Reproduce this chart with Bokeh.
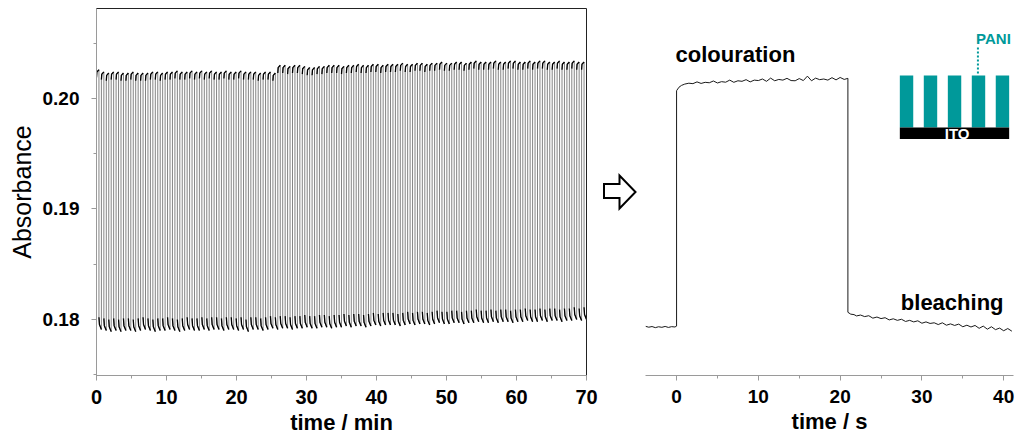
import numpy as np
from bokeh.plotting import figure
from bokeh.layouts import row
from bokeh.models import Range1d, SingleIntervalTicker, NumeralTickFormatter
from bokeh.core.properties import value
from bokeh.embed import file_html
from bokeh.resources import INLINE

# ---------------- data ----------------
# left panel: 100 switching cycles over 70 min (period 0.7 min)
cycle_period_min = 0.7
cycle_top = [0.2026, 0.2024, 0.2023, 0.2024, 0.2024, 0.2023, 0.2023, 0.2024, 0.2023, 0.2023,
             0.2023, 0.2024, 0.2024, 0.2023, 0.2024, 0.2024, 0.2025, 0.2024, 0.2024, 0.2025,
             0.2024, 0.2025, 0.2024, 0.2025, 0.2024, 0.2024, 0.2025, 0.2024, 0.2024, 0.2025,
             0.2024, 0.2024, 0.2024, 0.2023, 0.2024, 0.2024, 0.2023,
             0.2030, 0.2030, 0.2029, 0.2030, 0.2030, 0.2029, 0.2028, 0.2028,
             0.2029, 0.2029, 0.2030, 0.2030, 0.2030, 0.2029, 0.2030, 0.2030, 0.2031, 0.2030,
             0.2030, 0.2031, 0.2031, 0.2030, 0.2031, 0.2031,
             0.2031, 0.2032, 0.2031, 0.2031, 0.2032, 0.2032, 0.2031, 0.2032, 0.2032, 0.2033,
             0.2032, 0.2032, 0.2033, 0.2033, 0.2032, 0.2033, 0.2034, 0.2033,
             0.2033, 0.2033, 0.2034, 0.2033, 0.2033, 0.2034, 0.2034, 0.2033, 0.2033, 0.2034,
             0.2033, 0.2034, 0.2034, 0.2033, 0.2033, 0.2034, 0.2033, 0.2033, 0.2034, 0.2033, 0.2033]
cycle_bottom = [0.1791, 0.1790, 0.1789, 0.1790, 0.1789, 0.1790, 0.1790, 0.1789, 0.1790, 0.1791,
                0.1790, 0.1789, 0.1790, 0.1790, 0.1791, 0.1790, 0.1789, 0.1790, 0.1791, 0.1790,
                0.1790, 0.1791, 0.1790, 0.1791, 0.1791, 0.1790, 0.1791, 0.1791, 0.1790, 0.1791,
                0.1789, 0.1791, 0.1791, 0.1790, 0.1791, 0.1792, 0.1791, 0.1792, 0.1792, 0.1791,
                0.1792, 0.1792, 0.1793, 0.1792, 0.1792, 0.1793, 0.1793, 0.1792, 0.1793, 0.1793,
                0.1794, 0.1793, 0.1794, 0.1794, 0.1793, 0.1794, 0.1795, 0.1794, 0.1795, 0.1795,
                0.1795, 0.1794, 0.1795, 0.1796, 0.1795, 0.1796, 0.1796, 0.1795, 0.1796, 0.1797,
                0.1796, 0.1796, 0.1797, 0.1797, 0.1796, 0.1797, 0.1797, 0.1798, 0.1797, 0.1797,
                0.1798, 0.1797, 0.1798, 0.1798, 0.1797, 0.1798, 0.1798, 0.1799, 0.1798, 0.1798,
                0.1799, 0.1798, 0.1799, 0.1799, 0.1798, 0.1799, 0.1799, 0.1800, 0.1799, 0.1800]
top_plateau_span = 0.0007      # absorbance climb within a coloured plateau
bottom_plateau_span = 0.0011   # absorbance decay within a bleached plateau

# right panel: one single cycle (time in s)
pre_t = [-3.8, -3.4, -3.0, -2.6, -2.2, -1.8, -1.4, -1.0, -0.6, -0.2, 0.0]
pre_a = [0.17938, 0.17930, 0.17936, 0.17926, 0.17934, 0.17929, 0.17937, 0.17928, 0.17935, 0.17932, 0.17940]

col_t = [0.0, 0.3, 0.6, 1.0, 1.5, 2.0, 2.5, 3.0, 3.5, 4.0, 4.5, 5.0, 5.5, 6.0, 6.5, 7.0, 7.5,
         8.0, 8.5, 9.0, 9.5, 10.0, 10.5, 11.0, 11.5, 12.0, 12.5, 13.0, 13.5, 14.0, 14.5, 15.0,
         15.5, 16.0, 16.5, 17.0, 17.5, 18.0, 18.5, 19.0, 19.5, 20.0, 20.5, 20.95]
col_a = [0.20070, 0.20102, 0.20118, 0.20130, 0.20138, 0.20134, 0.20150, 0.20136, 0.20146, 0.20142,
         0.20158, 0.20140, 0.20152, 0.20147, 0.20166, 0.20146, 0.20160, 0.20155, 0.20170, 0.20150,
         0.20166, 0.20162, 0.20176, 0.20155, 0.20184, 0.20160, 0.20172, 0.20166, 0.20182, 0.20162,
         0.20160, 0.20180, 0.20162, 0.20202, 0.20160, 0.20184, 0.20170, 0.20176, 0.20166, 0.20188,
         0.20168, 0.20190, 0.20172, 0.20182]

bl_t = [20.95, 21.3, 21.7, 22.0, 22.5, 23.0, 23.5, 24.0, 24.5, 25.0, 25.5, 26.0, 26.5, 27.0,
        27.5, 28.0, 28.5, 29.0, 29.5, 30.0, 30.5, 31.0, 31.5, 32.0, 32.5, 33.0, 33.5, 34.0,
        34.5, 35.0, 35.5, 36.0, 36.5, 37.0, 37.5, 38.0, 38.5, 39.0, 39.5, 40.0, 40.5, 41.0]
bl_a = [0.18065, 0.18048, 0.18044, 0.18032, 0.18040, 0.18026, 0.18034, 0.18012, 0.18022, 0.18008,
        0.18016, 0.17996, 0.18006, 0.17992, 0.18002, 0.17982, 0.17992, 0.17978, 0.17988, 0.17966,
        0.17978, 0.17964, 0.17970, 0.17954, 0.17970, 0.17948, 0.17960, 0.17946, 0.17958, 0.17934,
        0.17948, 0.17932, 0.17946, 0.17920, 0.17940, 0.17912, 0.17934, 0.17908, 0.17922, 0.17898,
        0.17918, 0.17894]

assert len(cycle_top) == len(cycle_bottom) == 100
assert len(col_t) == len(col_a) and len(bl_t) == len(bl_a) and len(pre_t) == len(pre_a)

TEAL = "#00999a"
FONT = "Liberation Sans"
Y0, Y1 = 0.17493, 0.20814

# ---------------- left panel geometry from cycle levels ----------------
xs_all, ys_all, seg_x, seg_y = [], [], [], []
h = cycle_period_min / 2
for i, (top, bot) in enumerate(zip(cycle_top, cycle_bottom)):
    t0 = i * cycle_period_min
    tx = [t0, t0 + 0.15 * h, t0 + h]
    ty = [top - top_plateau_span, top - 0.3 * top_plateau_span, top]
    bx = [t0 + h, t0 + 1.2 * h, t0 + 2 * h]
    by = [bot + bottom_plateau_span, bot + 0.4 * bottom_plateau_span, bot]
    xs_all += tx + bx
    ys_all += ty + by
    seg_x += [tx, bx]
    seg_y += [ty, by]


def style_axis(ax, label, bold_label=True, size="22px", tick_size="19px"):
    ax.axis_label = label
    ax.axis_label_text_font = FONT
    ax.axis_label_text_font_size = size
    ax.axis_label_text_font_style = "bold" if bold_label else "normal"
    ax.axis_label_text_color = "black"
    ax.major_label_text_font = FONT
    ax.major_label_text_font_size = tick_size
    ax.major_label_text_font_style = "bold"
    ax.major_label_text_color = "black"
    ax.axis_line_color = "#9a9a9a"
    ax.major_tick_line_color = "#9a9a9a"
    ax.minor_tick_line_color = "#9a9a9a"
    ax.major_tick_in = 0
    ax.major_tick_out = 5
    ax.minor_tick_in = 0
    ax.minor_tick_out = 3


# ---------------- left figure ----------------
left = figure(width=600, height=438, x_range=Range1d(0, 70), y_range=Range1d(Y0, Y1),
              output_backend="svg", toolbar_location=None,
              min_border_left=96, min_border_right=14, min_border_top=8, min_border_bottom=63)
left.xgrid.visible = False
left.ygrid.visible = False
left.outline_line_color = "#222222"
left.background_fill_color = "white"

left.line(xs_all, ys_all, line_color="#858585", line_width=1)
left.multi_line(seg_x, seg_y, line_color="black", line_width=1.3)

style_axis(left.xaxis[0], "time / min", tick_size="20px")
left.xaxis[0].ticker = SingleIntervalTicker(interval=10, num_minor_ticks=2)
left.xaxis[0].major_label_standoff = 9
left.xaxis[0].axis_label_standoff = 3

style_axis(left.yaxis[0], "Absorbance", bold_label=False, size="25px")
left.yaxis[0].ticker = SingleIntervalTicker(interval=0.01, num_minor_ticks=2)
left.yaxis[0].formatter = NumeralTickFormatter(format="0.00")
left.yaxis[0].major_label_standoff = 12
left.yaxis[0].axis_label_standoff = 4

# ---------------- arrow (page-pixel coordinates of the shared frame 8..375) ----------------
arrow = figure(width=45, height=438, x_range=Range1d(600, 645), y_range=Range1d(375, 8),
               output_backend="svg", toolbar_location=None,
               x_axis_location=None, y_axis_location=None,
               min_border_left=0, min_border_right=0, min_border_top=8, min_border_bottom=63)
arrow.outline_line_color = None
arrow.xgrid.visible = False
arrow.ygrid.visible = False
arrow.patch([603.5, 619, 619, 635, 619, 619, 603.5],
            [183.5, 183.5, 175, 191.5, 208, 197.5, 197.5],
            fill_color="white", line_color="black", line_width=2, line_join="miter")

# ---------------- right figure ----------------
right = figure(width=373, height=438, x_range=Range1d(-3.8, 41.2), y_range=Range1d(Y0, Y1),
               output_backend="svg", toolbar_location=None, y_axis_location=None,
               min_border_left=0, min_border_right=5, min_border_top=8, min_border_bottom=63)
right.xgrid.visible = False
right.ygrid.visible = False
right.outline_line_color = None

single_t = pre_t + col_t + bl_t
single_a = pre_a + col_a + bl_a
right.line(single_t, single_a, line_color="#1a1a1a", line_width=1)

style_axis(right.xaxis[0], "time / s")
right.xaxis[0].ticker = SingleIntervalTicker(interval=10, num_minor_ticks=2)
right.xaxis[0].major_label_standoff = 9
right.xaxis[0].axis_label_standoff = 3

right.text(x=[7.2], y=[0.20398], text=["colouration"], text_font=value(FONT),
           text_font_size="22px", text_font_style="bold", text_align="center",
           text_baseline="middle", text_color="black")
right.text(x=[39.98], y=[0.18154], text=["bleaching"], text_font=value(FONT),
           text_font_size="22px", text_font_style="bold", text_align="right",
           text_baseline="middle", text_color="black")

# inset: PANI bars on ITO
bar_left = [27.30, 30.23, 33.17, 36.10, 39.03]
bar_w = 1.64
right.quad(left=bar_left, right=[b + bar_w for b in bar_left], bottom=0.197376, top=0.202081,
           fill_color=TEAL, line_color=None)
right.quad(left=[27.30], right=[40.67], bottom=[0.196335], top=[0.197376],
           fill_color="black", line_color=None)
right.text(x=[34.3], y=[0.19685], text=["ITO"], text_font=value(FONT), text_font_size="15px",
           text_font_style="bold", text_align="center", text_baseline="middle", text_color="white")
right.text(x=[38.75], y=[0.20543], text=["PANI"], text_font=value(FONT), text_font_size="15px",
           text_font_style="bold", text_align="center", text_baseline="middle", text_color=TEAL)
right.line([36.85, 36.85], [0.204615, 0.202081], line_color=TEAL, line_width=2, line_dash="2 2")

layout = row(left, arrow, right, spacing=0)
open("out.html", "w").write(file_html(layout, INLINE))
